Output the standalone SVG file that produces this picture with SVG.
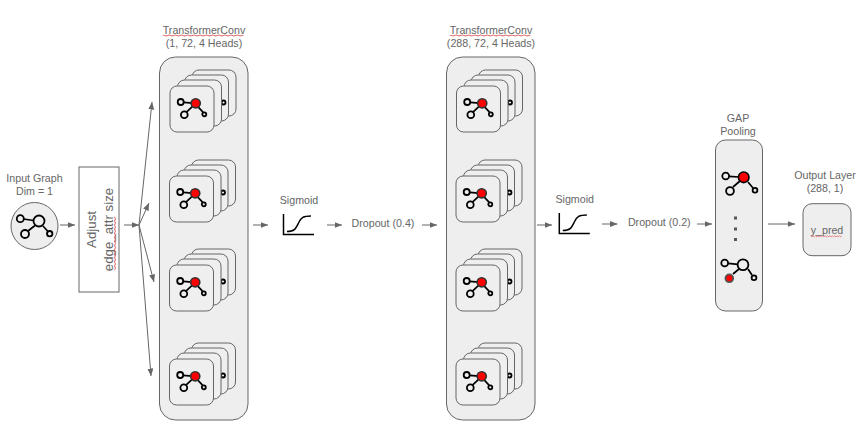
<svg xmlns="http://www.w3.org/2000/svg" xmlns:xlink="http://www.w3.org/1999/xlink" width="858" height="433" viewBox="0 0 858 433">
<style>
text{font-family:"Liberation Sans",Arial,sans-serif;font-size:10.67px;fill:#666;text-anchor:middle}
.panel{fill:#eee;stroke:#666;stroke-width:1}
.card{fill:#efefef;stroke:#666;stroke-width:1}
.n{fill:none;stroke:#000;stroke-width:1.8}
.fillbg{fill:#efefef;stroke:#000;stroke-width:1.8}
.e{stroke:#000;stroke-width:1.7;fill:none}
.hot{fill:#f00;stroke:#333;stroke-width:1.6}
.conn{stroke:#666;stroke-width:1;fill:none;marker-end:url(#ah)}
.sq{fill:none;stroke:#e06666;stroke-width:.8}
.ax{fill:none;stroke:#000;stroke-width:1.5}
</style>
<defs>
<marker id="ah" markerUnits="userSpaceOnUse" markerWidth="8" markerHeight="7" refX="7.5" refY="3" orient="auto"><path d="M0 0L7.5 3L0 6z" fill="#666"/></marker>
<g id="glyph">
<path class="e" d="M-12 -1L0 0M-9.5 9L-1 1M1 2L7.5 9"/>
<circle class="fillbg" cx="-15" cy="-1.3" r="3"/>
<circle class="fillbg" cx="-11.4" cy="11.4" r="3.400"/>
<circle class="fillbg" cx="8.600" cy="11" r="2"/>
<circle class="hot" cx="0" cy="0" r="4.600"/>
</g>
<g id="stack">
<rect class="card" x="22" y="-16" width="44" height="46" rx="7"/>
<rect class="card" x="14.500" y="-11" width="44" height="46" rx="7"/>
<circle class="n" cx="53.500" cy="16.500" r="2"/>
<rect class="card" x="7.500" y="-6" width="44" height="46" rx="7"/>
<rect class="card" x="0" y="0" width="44" height="46" rx="7"/>
<use xlink:href="#glyph" href="#glyph" x="25.700" y="17.300"/>
</g>
<g id="sig">
<path class="ax" d="M0 0V20.500H30.500"/>
<path class="ax" d="M3.500 17.500C11 17.500 12 15 15 9C17.500 3.500 20 2 27.500 2"/>
</g>
<path id="wave" class="sq" d="M0 0l1.200 1 1.200-1 1.200 1 1.200-1 1.200 1 1.200-1 1.200 1 1.200-1 1.200 1 1.200-1 1.200 1 1.200-1 1.200 1 1.200-1 1.200 1 1.200-1 1.200 1 1.200-1 1.200 1 1.200-1 1.200 1 1.200-1 1.200 1 1.200-1 1.200 1 1.200-1"/>
</defs>
<rect width="858" height="433" fill="#fff"/>
<g id="input-graph">
<text x="34.500" y="182">Input Graph</text>
<text x="34.500" y="195">Dim = 1</text>
<circle class="panel" cx="34.500" cy="226" r="23.500"/>
<path class="e" d="M23.500 219L33.500 220.500M28 231L35 225.500M43 226L48 231.500"/>
<circle class="n" cx="20.300" cy="218.700" r="3.500"/>
<circle class="n" cx="39" cy="221" r="5.500"/>
<circle class="n" cx="25" cy="234" r="4"/>
<circle class="n" cx="49.700" cy="233.700" r="2.700"/>
</g>
<g id="adjust">
<rect x="79" y="167" width="40" height="125" fill="#fff" stroke="#666" stroke-width="1"/>
<text transform="translate(96 229.500) rotate(-90)" style="font-size:13.300px">Adjust</text>
<text transform="translate(112.500 229.500) rotate(-90)" style="font-size:13.300px">edge_attr size</text>
<use xlink:href="#wave" href="#wave" transform="translate(114.500 270) rotate(-90) scale(1.700 1)"/>
</g>
<g id="transformer-1">
<text x="204" y="34">TransformerConv</text>
<text x="204" y="47">(1, 72, 4 Heads)</text>
<use xlink:href="#wave" href="#wave" transform="translate(163 35) scale(2.580 1)"/>
<rect class="panel" x="159.500" y="57" width="88.500" height="363" rx="16"/>
<use xlink:href="#stack" href="#stack" x="170" y="86"/>
<use xlink:href="#stack" href="#stack" x="169.500" y="176"/>
<use xlink:href="#stack" href="#stack" x="169.500" y="265"/>
<use xlink:href="#stack" href="#stack" x="169.500" y="359"/>
</g>
<g id="sigmoid-1">
<text x="299" y="204">Sigmoid</text>
<use xlink:href="#sig" href="#sig" x="283.500" y="214"/>
</g>
<g id="dropout-1"><text x="383" y="227">Dropout (0.4)</text></g>
<g id="transformer-2">
<text x="491" y="34">TransformerConv</text>
<text x="491" y="47">(288, 72, 4 Heads)</text>
<use xlink:href="#wave" href="#wave" transform="translate(450 35) scale(2.580 1)"/>
<rect class="panel" x="446.500" y="57" width="88.500" height="363" rx="16"/>
<use xlink:href="#stack" href="#stack" x="456.500" y="86"/>
<use xlink:href="#stack" href="#stack" x="456" y="176"/>
<use xlink:href="#stack" href="#stack" x="456" y="265"/>
<use xlink:href="#stack" href="#stack" x="456" y="359"/>
</g>
<g id="sigmoid-2">
<text x="574.700" y="203">Sigmoid</text>
<use xlink:href="#sig" href="#sig" x="559.300" y="213"/>
</g>
<g id="dropout-2"><text x="659.300" y="226">Dropout (0.2)</text></g>
<g id="gap-pooling">
<text x="738" y="122">GAP</text>
<text x="738" y="135">Pooling</text>
<rect class="panel" x="715.500" y="140" width="47" height="171" rx="10"/>
<path class="e" d="M729 176.300L739 177M733 187L740 181M748 182L753 188"/>
<circle class="fillbg" cx="725.700" cy="176" r="3.400"/>
<circle class="fillbg" cx="730" cy="191" r="3.900"/>
<circle class="fillbg" cx="755" cy="190.300" r="2.400"/>
<circle class="hot" cx="743.700" cy="177.300" r="5.300" style="stroke:#000"/>
<rect x="734" y="216.500" width="3" height="3" fill="#555"/>
<rect x="734" y="227.500" width="3" height="3" fill="#555"/>
<rect x="734" y="238" width="3" height="3" fill="#555"/>
<path class="e" d="M728 263.300L738 264.300M733 274L739 269M748 269L752 275"/>
<circle class="fillbg" cx="724.700" cy="263" r="3.400"/>
<circle class="fillbg" cx="743" cy="264.700" r="5.400"/>
<circle class="fillbg" cx="754" cy="277.700" r="2.400"/>
<circle cx="729.300" cy="278.300" r="3.900" fill="#f00" stroke="#555" stroke-width="1.800"/>
</g>
<g id="output-layer">
<text x="825" y="179">Output Layer</text>
<text x="825" y="192">(288, 1)</text>
<rect class="panel" x="803" y="203.700" width="48" height="52" rx="9"/>
<text x="827" y="233.500">y_pred</text>
<use xlink:href="#wave" href="#wave" transform="translate(810.700 235.800) scale(1)"/>
</g>
<g id="connectors">
<path class="conn" d="M60 225H75"/>
<path class="conn" d="M124 225H139"/>
<path class="conn" d="M139 225L152 102"/>
<path class="conn" d="M139 225L149 203"/>
<path class="conn" d="M139 225L154 282"/>
<path class="conn" d="M139 225L151 376"/>
<path class="conn" d="M253 225H268"/>
<path class="conn" d="M327 225H342"/>
<path class="conn" d="M422 225H437"/>
<path class="conn" d="M537 225H552"/>
<path class="conn" d="M602 224H617.500"/>
<path class="conn" d="M697 224H712"/>
<path class="conn" d="M768 224H795"/>
</g>
</svg>
